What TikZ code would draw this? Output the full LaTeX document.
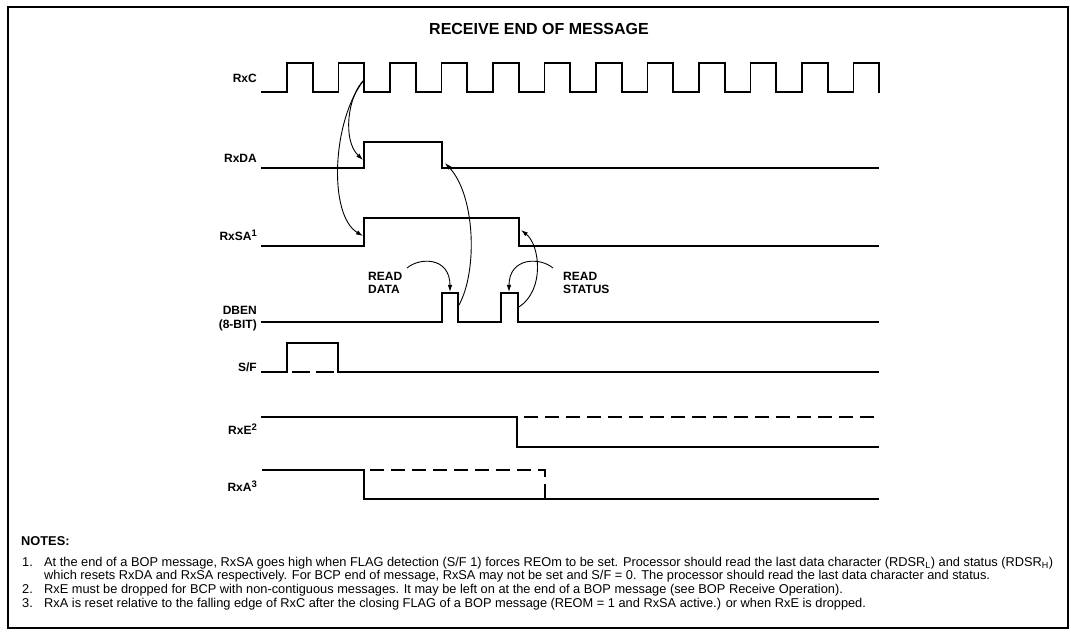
\documentclass[tikz,border=0pt]{standalone}
\usepackage{fontspec}
\setmainfont{Liberation Sans}
\usetikzlibrary{arrows.meta}
\newcommand{\sigsup}[1]{\raisebox{4pt}{\fontsize{9.5}{10}\selectfont #1}}
\begin{document}
\begin{tikzpicture}[x=1pt,y=-1pt,
  wave/.style={line width=1.7pt, line join=miter, line cap=rect},
  dwave/.style={line width=1.7pt, dash pattern=on 14pt off 7pt},
  frame/.style={line width=1.1pt},
  cause/.style={line width=0.9pt, -{Latex[length=7pt,width=4.5pt]}},
  siglabel/.style={font=\fontsize{12}{13}\selectfont\bfseries, anchor=east, inner sep=0pt, align=right},
  readlabel/.style={font=\fontsize{12}{13}\selectfont\bfseries, inner sep=0pt, align=left},
  notetext/.style={font=\fontsize{12.8}{15}\selectfont, anchor=base west, inner sep=0pt}]
\useasboundingbox (0,0) rectangle (1071,636);
\draw[frame] (8,7) rectangle (1068,628);

\node[font=\fontsize{16}{18}\selectfont\bfseries, inner sep=0pt] (title) at (539,29) {RECEIVE END OF MESSAGE};

% signal labels
\node[siglabel] (lrxc) at (257,78) {RxC};
\node[siglabel] (lrxda) at (257,158) {RxDA};
\node[siglabel, anchor=base east] (lrxsa) at (257,241) {RxSA\sigsup{1}};
\node[siglabel, font=\fontsize{12}{14}\selectfont\bfseries] (ldben) at (257,319) {DBEN\\(8-BIT)};
\node[siglabel] (lsf) at (257,367) {S/F};
\node[siglabel, anchor=base east] (lrxe) at (257,434) {RxE\sigsup{2}};
\node[siglabel, anchor=base east] (lrxa) at (257,491) {RxA\sigsup{3}};

% RxC clock
\draw[wave] (262,92) \foreach \k in {0,...,11}{ -- ({287+51.5*\k},92) -- ({287+51.5*\k},63) -- ({312.75+51.5*\k},63) -- ({312.75+51.5*\k},92) };

% RxDA
\draw[wave] (262,168) -- (364,168) -- (364,142) -- (442,142) -- (442,168) -- (878,168);
% RxSA
\draw[wave] (262,246) -- (364,246) -- (364,218) -- (519,218) -- (519,246) -- (878,246);
% DBEN
\draw[wave] (262,322) -- (442,322) -- (442,293) -- (458,293) -- (458,322) -- (501,322) -- (501,293) -- (518,293) -- (518,322) -- (878,322);
% S/F
\draw[wave] (262,372) -- (287,372) -- (287,343) -- (338,343) -- (338,372) -- (878,372);
\draw[line width=1.7pt, dash pattern=on 18pt off 6pt] (292,372) -- (334,372);
% RxE
\draw[wave] (262,417) -- (517,417) -- (517,447) -- (878,447);
\draw[dwave] (524,417) -- (878,417);
% RxA
\draw[wave] (263,470) -- (364,470) -- (364,499) -- (878,499);
\draw[dwave] (370,470) -- (545,470) -- (545,499);

% edge points
\coordinate (rxcfall) at (364,80);
\coordinate (rxdarise) at (363,160);
\coordinate (rxsarise) at (363,236);
\coordinate (rxdafall) at (445,163);
\coordinate (rxsafall) at (521,230);
\coordinate (dben1) at (459,305);
\coordinate (dben2) at (519,307);
\coordinate (dben1top) at (450,292);
\coordinate (dben2top) at (509,292);
\coordinate (rdstart) at (407,268);
\coordinate (rsstart) at (553,268);

% cause arrows
\draw[cause] (rxcfall) .. controls (348,95) and (342,140) .. (rxdarise);
\draw[cause] (rxcfall) .. controls (332,120) and (328,215) .. (rxsarise);
\draw[cause] (dben1) .. controls (478,270) and (475,195) .. (rxdafall);
\draw[cause] (dben2) .. controls (545,290) and (540,245) .. (rxsafall);
\draw[cause] (rdstart) .. controls (420,257) and (450,257) .. (dben1top);
\draw[cause] (rsstart) .. controls (540,257) and (509,257) .. (dben2top);

\node[readlabel, anchor=west] (readdata) at (368,283) {READ\\DATA};
\node[readlabel, anchor=west] (readstatus) at (563,283) {READ\\STATUS};

% notes
\node[notetext, font=\fontsize{12.8}{15}\selectfont\bfseries] (notes) at (21,545.5) {NOTES:};
\node[notetext] (n1) at (22,566.5) {1.};
\node[notetext] (n1a) at (44,566.5) {At the end of a BOP message, RxSA goes high when FLAG detection (S/F 1) forces REOm to be set. Processor should read the last data character (RDSR\textsubscript{L}) and status (RDSR\textsubscript{H})};
\node[notetext] (n1b) at (44,579.5) {which resets RxDA and RxSA respectively. For BCP end of message, RxSA may not be set and S/F = 0. The processor should read the last data character and status.};
\node[notetext] (n2) at (22,593) {2.};
\node[notetext] (n2a) at (44,593) {RxE must be dropped for BCP with non-contiguous messages. It may be left on at the end of a BOP message (see BOP Receive Operation).};
\node[notetext] (n3) at (22,607) {3.};
\node[notetext] (n3a) at (44,607) {RxA is reset relative to the falling edge of RxC after the closing FLAG of a BOP message (REOM = 1 and RxSA active.) or when RxE is dropped.};
\end{tikzpicture}
\end{document}
